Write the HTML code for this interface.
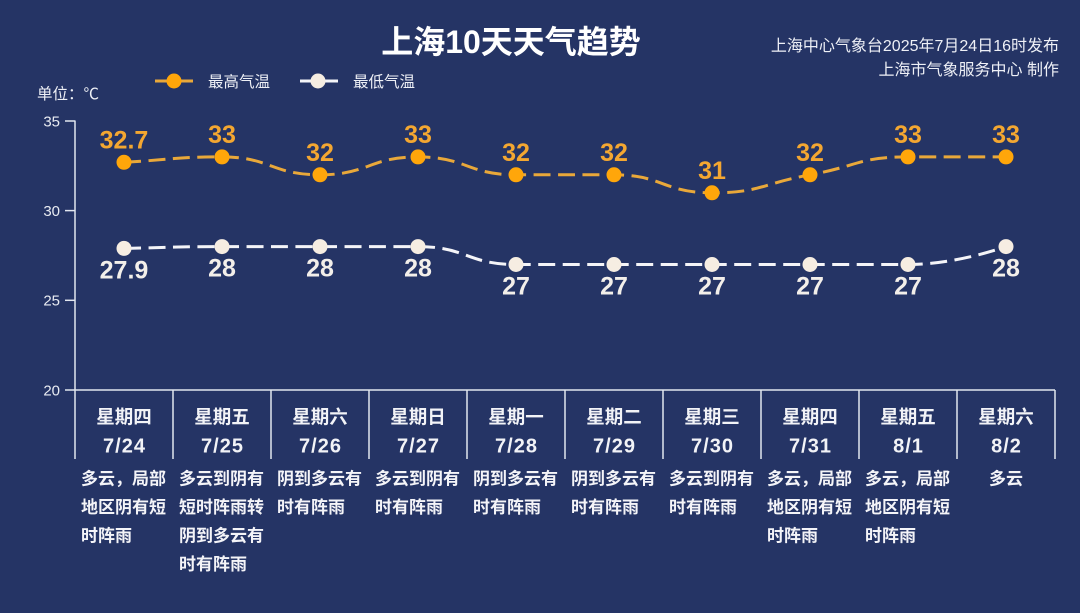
<!DOCTYPE html>
<html>
<head>
<meta charset="utf-8">
<style>
  html,body{margin:0;padding:0;background:#253465;}
  svg{display:block;}
  text{font-family:"Liberation Sans","Noto Sans CJK SC",sans-serif;}
</style>
</head>
<body>
<svg width="1080" height="613" viewBox="0 0 1080 613" xmlns="http://www.w3.org/2000/svg">
  <rect x="0" y="0" width="1080" height="613" fill="#253465"/>

  <!-- Title -->
  <text x="511" y="53" text-anchor="middle" font-size="32" font-weight="bold" fill="#ffffff">上海10天天气趋势</text>

  <!-- Right top info -->
  <text x="1059" y="51" text-anchor="end" font-size="16" fill="#eef0f6">上海中心气象台2025年7月24日16时发布</text>
  <text x="1059" y="75" text-anchor="end" font-size="16" fill="#eef0f6">上海市气象服务中心 制作</text>

  <!-- Legend -->
  <line x1="155" y1="81" x2="193" y2="81" stroke="#e9a83a" stroke-width="3"/>
  <circle cx="174" cy="81" r="7.5" fill="#ffa60a"/>
  <text x="208" y="87" font-size="15.5" fill="#eef0f6">最高气温</text>
  <line x1="300" y1="81" x2="338" y2="81" stroke="#f4f4f8" stroke-width="3"/>
  <circle cx="318" cy="81" r="7.5" fill="#f6ede2"/>
  <text x="353" y="87" font-size="15.5" fill="#eef0f6">最低气温</text>

  <!-- Unit -->
  <text x="37" y="99" font-size="15.5" fill="#eef0f6">单位：℃</text>

  <!-- Y axis -->
  <g stroke="#e2e6ef" stroke-width="1.5" fill="none">
    <line x1="75" y1="120.5" x2="75" y2="390"/>
    <line x1="65" y1="121" x2="75" y2="121"/>
    <line x1="65" y1="210.6" x2="75" y2="210.6"/>
    <line x1="65" y1="300.3" x2="75" y2="300.3"/>
    <line x1="65" y1="390" x2="1055" y2="390"/>
    <!-- separators -->
    <line x1="75" y1="390" x2="75" y2="459"/>
    <line x1="173" y1="390" x2="173" y2="459"/>
    <line x1="271" y1="390" x2="271" y2="459"/>
    <line x1="369" y1="390" x2="369" y2="459"/>
    <line x1="467" y1="390" x2="467" y2="459"/>
    <line x1="565" y1="390" x2="565" y2="459"/>
    <line x1="663" y1="390" x2="663" y2="459"/>
    <line x1="761" y1="390" x2="761" y2="459"/>
    <line x1="859" y1="390" x2="859" y2="459"/>
    <line x1="957" y1="390" x2="957" y2="459"/>
    <line x1="1055" y1="390" x2="1055" y2="459"/>
  </g>
  <g font-size="15" fill="#e8ebf2" text-anchor="end">
    <text x="60" y="126.5">35</text>
    <text x="60" y="216">30</text>
    <text x="60" y="305.7">25</text>
    <text x="60" y="395.4">20</text>
  </g>

  <!-- High temp line -->
  <path d="M124,162.3 C173,159.6 173,156.9 222,156.9 C271,156.9 271,174.8 320,174.8 C369,174.8 369,156.9 418,156.9 C467,156.9 467,174.8 516,174.8 C565,174.8 565,174.8 614,174.8 C663,174.8 663,192.8 712,192.8 C761,192.8 761,183.8 810,174.8 C859,165.8 859,156.9 908,156.9 C957,156.9 1006,156.9 1006,156.9"
        fill="none" stroke="#e9a83a" stroke-width="3" stroke-dasharray="17 7.5"/>
  <!-- Low temp line -->
  <path d="M124,248.4 C173,247.5 173,246.6 222,246.6 C271,246.6 271,246.6 320,246.6 C369,246.6 369,246.6 418,246.6 C467,246.6 467,264.5 516,264.5 L908,264.5 C957,264.5 1006,246.6 1006,246.6"
        fill="none" stroke="#f4f4f8" stroke-width="3" stroke-dasharray="17 7.5"/>

  <!-- High markers -->
  <g fill="#ffa60a">
    <circle cx="124" cy="162.3" r="7.5"/>
    <circle cx="222" cy="156.9" r="7.5"/>
    <circle cx="320" cy="174.8" r="7.5"/>
    <circle cx="418" cy="156.9" r="7.5"/>
    <circle cx="516" cy="174.8" r="7.5"/>
    <circle cx="614" cy="174.8" r="7.5"/>
    <circle cx="712" cy="192.8" r="7.5"/>
    <circle cx="810" cy="174.8" r="7.5"/>
    <circle cx="908" cy="156.9" r="7.5"/>
    <circle cx="1006" cy="156.9" r="7.5"/>
  </g>
  <!-- Low markers -->
  <g fill="#f6ede2">
    <circle cx="124" cy="248.4" r="7.5"/>
    <circle cx="222" cy="246.6" r="7.5"/>
    <circle cx="320" cy="246.6" r="7.5"/>
    <circle cx="418" cy="246.6" r="7.5"/>
    <circle cx="516" cy="264.5" r="7.5"/>
    <circle cx="614" cy="264.5" r="7.5"/>
    <circle cx="712" cy="264.5" r="7.5"/>
    <circle cx="810" cy="264.5" r="7.5"/>
    <circle cx="908" cy="264.5" r="7.5"/>
    <circle cx="1006" cy="246.6" r="7.5"/>
  </g>

  <!-- High labels -->
  <g font-size="25" font-weight="bold" fill="#f4a731" text-anchor="middle">
    <text x="124" y="148.3">32.7</text>
    <text x="222" y="142.9">33</text>
    <text x="320" y="160.8">32</text>
    <text x="418" y="142.9">33</text>
    <text x="516" y="160.8">32</text>
    <text x="614" y="160.8">32</text>
    <text x="712" y="178.8">31</text>
    <text x="810" y="160.8">32</text>
    <text x="908" y="142.9">33</text>
    <text x="1006" y="142.9">33</text>
  </g>
  <!-- Low labels -->
  <g font-size="25" font-weight="bold" fill="#f3efea" text-anchor="middle">
    <text x="124" y="278.4">27.9</text>
    <text x="222" y="276.6">28</text>
    <text x="320" y="276.6">28</text>
    <text x="418" y="276.6">28</text>
    <text x="516" y="294.5">27</text>
    <text x="614" y="294.5">27</text>
    <text x="712" y="294.5">27</text>
    <text x="810" y="294.5">27</text>
    <text x="908" y="294.5">27</text>
    <text x="1006" y="276.6">28</text>
  </g>

  <!-- Day names -->
  <g font-size="18.5" font-weight="bold" fill="#f2f3f7" text-anchor="middle">
    <text x="124" y="423.5">星期四</text>
    <text x="222" y="423.5">星期五</text>
    <text x="320" y="423.5">星期六</text>
    <text x="418" y="423.5">星期日</text>
    <text x="516" y="423.5">星期一</text>
    <text x="614" y="423.5">星期二</text>
    <text x="712" y="423.5">星期三</text>
    <text x="810" y="423.5">星期四</text>
    <text x="908" y="423.5">星期五</text>
    <text x="1006" y="423.5">星期六</text>
  </g>
  <!-- Dates -->
  <g font-size="20" font-weight="bold" fill="#f2f3f7" text-anchor="middle" letter-spacing="1">
    <text x="124.5" y="452.7">7/24</text>
    <text x="222.5" y="452.7">7/25</text>
    <text x="320.5" y="452.7">7/26</text>
    <text x="418.5" y="452.7">7/27</text>
    <text x="516.5" y="452.7">7/28</text>
    <text x="614.5" y="452.7">7/29</text>
    <text x="712.5" y="452.7">7/30</text>
    <text x="810.5" y="452.7">7/31</text>
    <text x="908.5" y="452.7">8/1</text>
    <text x="1006.5" y="452.7">8/2</text>
  </g>

  <!-- Descriptions -->
  <g font-size="17" font-weight="bold" fill="#f4f4f8">
    <text x="81" y="484.5">多云，局部</text>
    <text x="81" y="513">地区阴有短</text>
    <text x="81" y="541.5">时阵雨</text>

    <text x="179" y="484.5">多云到阴有</text>
    <text x="179" y="513">短时阵雨转</text>
    <text x="179" y="541.5">阴到多云有</text>
    <text x="179" y="570">时有阵雨</text>

    <text x="277" y="484.5">阴到多云有</text>
    <text x="277" y="513">时有阵雨</text>

    <text x="375" y="484.5">多云到阴有</text>
    <text x="375" y="513">时有阵雨</text>

    <text x="473" y="484.5">阴到多云有</text>
    <text x="473" y="513">时有阵雨</text>

    <text x="571" y="484.5">阴到多云有</text>
    <text x="571" y="513">时有阵雨</text>

    <text x="669" y="484.5">多云到阴有</text>
    <text x="669" y="513">时有阵雨</text>

    <text x="767" y="484.5">多云，局部</text>
    <text x="767" y="513">地区阴有短</text>
    <text x="767" y="541.5">时阵雨</text>

    <text x="865" y="484.5">多云，局部</text>
    <text x="865" y="513">地区阴有短</text>
    <text x="865" y="541.5">时阵雨</text>

    <text x="1006" y="484.5" text-anchor="middle">多云</text>
  </g>
</svg>
</body>
</html>
